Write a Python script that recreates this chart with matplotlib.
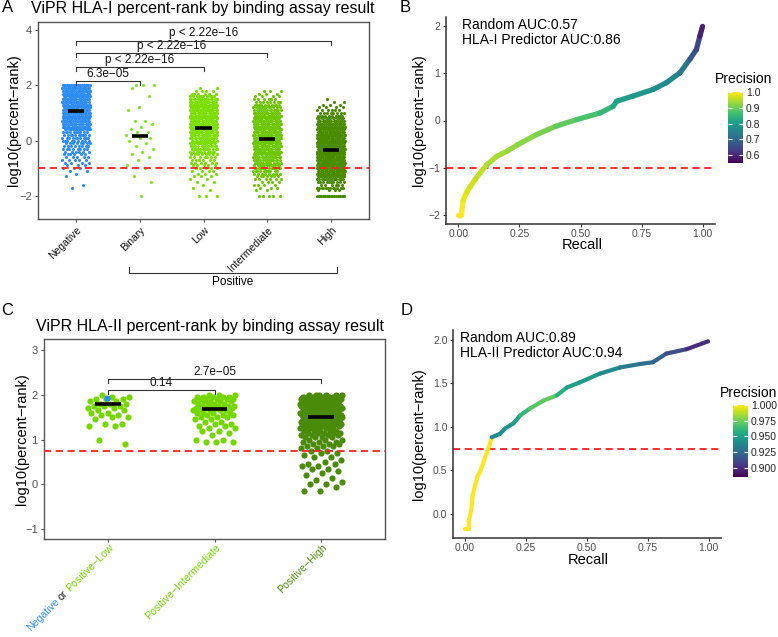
import numpy as np
import matplotlib
matplotlib.use("Agg")
import matplotlib.pyplot as plt
from matplotlib.collections import LineCollection
from matplotlib import transforms
from matplotlib.cm import ScalarMappable
from matplotlib.colors import Normalize

plt.rcParams['font.family'] = ['Liberation Sans', 'DejaVu Sans']

W, H = 778, 637

# ---------------- panel A data ----------------
# log10(percent-rank) levels and the number of peptides read at each level
a_groups = ["Negative", "Binary", "Low", "Intermediate", "High"]
a_levels = [2.0, 1.9, 1.8, 1.7, 1.6, 1.5, 1.4, 1.3, 1.2, 1.1, 1.0, 0.9, 0.8, 0.7,
            0.6, 0.5, 0.4, 0.3, 0.2, 0.1, 0.0, -0.1, -0.2, -0.3, -0.4, -0.5, -0.6,
            -0.7, -0.8, -0.9, -1.0, -1.1, -1.2, -1.3, -1.4, -1.5, -1.6, -1.7, -1.8,
            -1.9, -2.0]
a_counts_negative = [20, 20, 20, 20, 20, 20, 20, 20, 20, 20, 20, 20, 20, 20,
                     18, 18, 16, 10, 10, 10, 9, 8, 8, 8, 6, 6, 5,
                     5, 4, 3, 3, 2, 1, 1, 0, 0, 1, 1, 0,
                     0, 0]
a_counts_binary = [3, 1, 0, 0, 1, 0, 0, 0, 1, 1, 0, 0, 0, 2,
                   1, 1, 1, 2, 3, 2, 1, 1, 1, 1, 1, 1, 1,
                   1, 0, 1, 1, 0, 0, 1, 0, 1, 0, 0, 0,
                   0, 1]
a_counts_low = [0, 2, 4, 6, 10, 14, 16, 18, 18, 18, 18, 18, 18, 18,
                18, 18, 18, 18, 16, 16, 14, 14, 12, 12, 10, 8, 7,
                6, 6, 5, 5, 4, 3, 3, 2, 2, 1, 1, 1,
                0, 3]
a_counts_intermediate = [0, 0, 3, 3, 4, 6, 8, 10, 12, 14, 16, 16, 18, 18,
                         18, 18, 18, 18, 18, 18, 18, 18, 18, 18, 18, 16, 16,
                         14, 12, 12, 12, 10, 8, 7, 6, 4, 4, 3, 2,
                         0, 5]
a_counts_high = [0, 0, 0, 0, 0, 1, 2, 3, 4, 6, 8, 10, 14, 16,
                 20, 22, 24, 26, 28, 30, 30, 30, 30, 30, 30, 30, 30,
                 30, 30, 30, 28, 26, 24, 20, 16, 10, 6, 12, 4,
                 0, 20]
a_medians = [1.07, 0.18, 0.45, 0.06, -0.33]
a_pvalues = ["6.3e\u221205", "p < 2.22e\u221216", "p < 2.22e\u221216", "p < 2.22e\u221216"]
a_threshold = -1.0

# ---------------- panel B data ----------------
b_recall = [0.0, 0.013, 0.02, 0.035, 0.05, 0.07, 0.09, 0.117, 0.158, 0.2, 0.245,
            0.32, 0.40, 0.485, 0.58, 0.633, 0.648, 0.715, 0.797, 0.85, 0.906,
            0.947, 0.974, 0.988, 0.999]
b_logrank = [-2.0, -2.0, -1.7, -1.52, -1.4, -1.25, -1.11, -0.94, -0.76, -0.65, -0.51,
             -0.3, -0.12, 0.02, 0.16, 0.3, 0.41, 0.52, 0.66, 0.8, 1.01,
             1.3, 1.51, 1.79, 2.0]
b_precision = [1.0, 1.0, 0.985, 0.975, 0.97, 0.96, 0.955, 0.945, 0.94, 0.93, 0.92,
               0.91, 0.89, 0.87, 0.85, 0.82, 0.80, 0.79, 0.77, 0.76, 0.73,
               0.67, 0.64, 0.59, 0.565]
b_auc_text = ["Random AUC:0.57", "HLA-I Predictor AUC:0.86"]

# ---------------- panel C data ----------------
c_levels = [2.0, 1.95, 1.9, 1.85, 1.8, 1.75, 1.7, 1.65, 1.6, 1.55, 1.5, 1.45, 1.4,
            1.35, 1.3, 1.25, 1.2, 1.15, 1.1, 1.05, 1.0, 0.95, 0.9, 0.85, 0.8,
            0.75, 0.7, 0.65, 0.6, 0.55, 0.5, 0.45, 0.4, 0.35, 0.3, 0.25, 0.2,
            0.15, 0.1, 0.05, 0.0, -0.05, -0.1, -0.15, -0.2]
c_counts_low = [1, 2, 3, 2, 3, 3, 2, 2, 2, 2, 2, 1, 0,
                2, 2, 0, 0, 0, 0, 0, 1, 0, 1, 0, 0,
                0, 0, 0, 0, 0, 0, 0, 0, 0, 0, 0, 0,
                0, 0, 0, 0, 0, 0, 0, 0]
c_counts_intermediate = [3, 5, 5, 5, 4, 5, 5, 5, 4, 3, 3, 2, 2,
                         2, 2, 2, 2, 1, 1, 0, 2, 3, 0, 0, 0,
                         0, 0, 0, 0, 0, 0, 0, 0, 0, 0, 0, 0,
                         0, 0, 0, 0, 0, 0, 0, 0]
c_counts_high = [6, 8, 9, 9, 9, 9, 9, 9, 9, 8, 8, 8, 7,
                 7, 6, 6, 5, 5, 4, 4, 3, 3, 3, 3, 2,
                 2, 2, 1, 2, 1, 1, 2, 2, 2, 1, 1, 1,
                 1, 1, 1, 2, 1, 0, 2, 0]
c_negative_values = [1.93]
c_medians = [1.79, 1.68, 1.51]
c_pvalues = ["0.14", "2.7e\u221205"]
c_threshold = 0.75

# ---------------- panel D data ----------------
d_recall = [0.0, 0.014, 0.014, 0.025, 0.03, 0.041, 0.05, 0.061, 0.082, 0.102,
            0.109, 0.143, 0.164, 0.198, 0.225, 0.266, 0.321, 0.376, 0.417, 0.471,
            0.553, 0.635, 0.717, 0.77, 0.826, 0.909, 0.997]
d_logrank = [-0.17, -0.17, -0.09, 0.05, 0.21, 0.33, 0.43, 0.48, 0.65, 0.81,
             0.88, 0.92, 0.98, 1.04, 1.13, 1.21, 1.30, 1.36, 1.45, 1.51,
             1.61, 1.68, 1.72, 1.74, 1.84, 1.89, 1.98]
d_precision = [1.0, 1.0, 1.0, 1.0, 1.0, 1.0, 1.0, 1.0, 1.0, 1.0,
               0.94, 0.942, 0.945, 0.95, 0.962, 0.97, 0.972, 0.958, 0.95, 0.947,
               0.94, 0.932, 0.926, 0.922, 0.912, 0.9, 0.886]
d_auc_text = ["Random AUC:0.89", "HLA-II Predictor AUC:0.94"]


def fx(x):
    return x / W


def fy(y):
    return 1 - y / H


def box(l, t, r, b):
    return [fx(l), fy(b), (r - l) / W, (b - t) / H]


def strip(ax, x0, levels, counts, color, half, size):
    y = np.repeat(levels, counts)
    k = np.arange(len(y))
    dx = ((k * 0.6180339887 + 0.37) % 1.0 - 0.5) * 2 * half
    ax.scatter(x0 + dx, y, s=size, color=color, linewidths=0, zorder=2)


def bracket(ax, x1, x2, y, drop, label, fs=8.5):
    ax.plot([x1, x1, x2, x2], [y - drop, y, y, y - drop], color='#333333', lw=0.8,
            zorder=4, clip_on=False)
    ax.text((x1 + x2) / 2, y + drop * 0.35, label, ha='center', va='bottom',
            fontsize=fs, color='#111111')


def framed(ax):
    for s in ax.spines.values():
        s.set_color('#555555')
        s.set_linewidth(1.0)
    ax.tick_params(length=2.5, width=0.8, color='#555555', labelsize=8,
                   labelcolor='#4D4D4D', pad=2)


def classic(ax):
    ax.spines['top'].set_visible(False)
    ax.spines['right'].set_visible(False)
    for s in ['left', 'bottom']:
        ax.spines[s].set_color('#333333')
        ax.spines[s].set_linewidth(1.1)
    ax.tick_params(length=2.5, width=0.8, color='#333333', labelsize=7.5,
                   labelcolor='#4D4D4D', pad=1.5)
    ax.tick_params(axis='x', pad=1)


def pr_curve(ax, recall, logrank, precision, norm, lw):
    pts = np.column_stack([recall, logrank])
    segs = np.stack([pts[:-1], pts[1:]], axis=1)
    lc = LineCollection(segs, cmap='viridis', norm=norm, linewidths=lw,
                        capstyle='round', zorder=3)
    lc.set_array(np.array(precision[:-1]))
    ax.add_collection(lc)


def colorbar(fig, rect, norm, ticks, labels):
    cax = fig.add_axes(rect)
    cb = fig.colorbar(ScalarMappable(norm=norm, cmap='viridis'), cax=cax)
    cb.outline.set_visible(False)
    cb.set_ticks(ticks)
    cb.set_ticklabels(labels)
    cax.tick_params(direction='in', length=3, width=0.8, color='white',
                    left=True, right=True, labelleft=False, labelright=True,
                    labelsize=7.5, labelcolor='#222222', pad=2)


fig = plt.figure(figsize=(W / 100, H / 100), dpi=100)

# ---------------- A ----------------
axA = fig.add_axes(box(38, 22, 369, 219))
a_counts = [a_counts_negative, a_counts_binary, a_counts_low,
            a_counts_intermediate, a_counts_high]
a_colors = ['#2E8DF2', '#7DE81E', '#7ADE00', '#6CC600', '#4A8C00']
for i, (cnt, col) in enumerate(zip(a_counts, a_colors)):
    strip(axA, i + 1, a_levels, cnt, col, 0.22, 5)
for i, m in enumerate(a_medians):
    axA.plot([i + 1 - 0.13, i + 1 + 0.13], [m, m], color='black', lw=2.6,
             solid_capstyle='butt', zorder=5)
axA.axhline(a_threshold, color='#FF2020', lw=1.3, ls=(0, (4, 2.5)), zorder=4)
for k, (y, lab) in enumerate(zip([2.155, 2.665, 3.15, 3.61], a_pvalues)):
    bracket(axA, 1, k + 2, y, 0.14, lab)
axA.set_xlim(0.4, 5.6)
axA.set_ylim(-2.84, 4.29)
axA.set_yticks([-2, 0, 2, 4])
axA.set_xticks(range(1, 6))
axA.set_xticklabels(a_groups, rotation=45, ha='right', rotation_mode='anchor',
                    fontsize=7.5, color='#111111')
framed(axA)
axA.tick_params(axis='x', labelcolor='#111111', labelsize=7.5)
tA = transforms.blended_transform_factory(axA.transData, axA.transAxes)
axA.plot([1.83, 1.83, 5.10, 5.10], [-0.244, -0.274, -0.274, -0.244], color='#333333',
         lw=0.8, transform=tA, clip_on=False)
axA.text(3.46, -0.32, "Positive", transform=tA, ha='center', va='center', fontsize=8.5)
fig.text(fx(203), fy(9), "ViPR HLA-I percent-rank by binding assay result",
         ha='center', va='center', fontsize=11.5)
fig.text(fx(14), fy(120), "log10(percent\u2212rank)", rotation=90, ha='center',
         va='center', fontsize=10.5)

# ---------------- B ----------------
axB = fig.add_axes(box(446, 17, 715, 224))
normB = Normalize(0.55, 1.0)
axB.axhline(a_threshold, color='#FF2020', lw=1.3, ls=(0, (4, 2.5)), zorder=2)
pr_curve(axB, b_recall, b_logrank, b_precision, normB, 3.8)
axB.set_xlim(-0.05, 1.05)
axB.set_ylim(-2.2, 2.2)
axB.set_xticks([0, 0.25, 0.5, 0.75, 1.0])
axB.set_xticklabels(["0.00", "0.25", "0.50", "0.75", "1.00"])
axB.set_yticks([-2, -1, 0, 1, 2])
classic(axB)
fig.text(fx(462), fy(25), b_auc_text[0], ha='left', va='center', fontsize=10)
fig.text(fx(462), fy(40), b_auc_text[1], ha='left', va='center', fontsize=10)
fig.text(fx(582), fy(238), "Recall", ha='center', va='top', fontsize=10.5)
fig.text(fx(419), fy(120), "log10(percent\u2212rank)", rotation=90, ha='center',
         va='center', fontsize=10.5)
fig.text(fx(715), fy(79), "Precision", ha='left', va='center', fontsize=10)
colorbar(fig, box(728, 92, 743, 163), normB, [0.6, 0.7, 0.8, 0.9, 1.0],
         ["0.6", "0.7", "0.8", "0.9", "1.0"])

# ---------------- C ----------------
axC = fig.add_axes(box(44, 339, 385, 539))
c_counts = [c_counts_low, c_counts_intermediate, c_counts_high]
c_colors = ['#74D800', '#74D800', '#4A8C0A']
for i, (cnt, col) in enumerate(zip(c_counts, c_colors)):
    strip(axC, i + 1, c_levels, cnt, col, 0.2, 20)
axC.scatter([1 - 0.01] * len(c_negative_values), c_negative_values, s=20,
            color='#2E8DF2', linewidths=0, zorder=3)
for i, m in enumerate(c_medians):
    axC.plot([i + 1 - 0.12, i + 1 + 0.12], [m, m], color='black', lw=2.6,
             solid_capstyle='butt', zorder=5)
axC.axhline(c_threshold, color='#FF2020', lw=1.3, ls=(0, (4, 2.5)), zorder=4)
bracket(axC, 1, 2, 2.107, 0.09, c_pvalues[0])
bracket(axC, 1, 3, 2.35, 0.09, c_pvalues[1])
axC.set_xlim(0.4, 3.6)
axC.set_ylim(-1.223, 3.246)
axC.set_yticks([-1, 0, 1, 2, 3])
axC.set_xticks([1, 2, 3])
axC.set_xticklabels([])
framed(axC)
fig.text(fx(210), fy(326), "ViPR HLA-II percent-rank by binding assay result",
         ha='center', va='center', fontsize=11.5)
fig.text(fx(22), fy(439), "log10(percent\u2212rank)", rotation=90, ha='center',
         va='center', fontsize=10.5)

renderer = fig.canvas.get_renderer()


def text_width(s, fs):
    t = fig.text(0, 0, s, fontsize=fs)
    w = t.get_window_extent(renderer).width
    t.remove()
    return w


def rotated_label(ax, xdata, parts, fs):
    base = transforms.blended_transform_factory(ax.transData, ax.transAxes)
    full = "".join(p for p, _ in parts)
    wfull = text_width(full, fs)
    c45 = np.cos(np.radians(45))
    prefix = ""
    for txt, col in parts:
        prefix += txt
        shift = wfull - text_width(prefix, fs) if prefix != full else 0.0
        tr = transforms.offset_copy(base, fig=fig, x=-shift * c45 + 1,
                                    y=-shift * c45 - 3, units='dots')
        ax.text(xdata, 0, txt.strip(), transform=tr, rotation=45,
                rotation_mode='anchor', ha='right', va='top', color=col,
                fontsize=fs, clip_on=False)


rotated_label(axC, 1, [("Negative", '#2E8DF2'), (" or", '#111111'),
                       (" Positive\u2212Low", '#74D800')], 7.6)
rotated_label(axC, 2, [("Positive\u2212Intermediate", '#74D800')], 7.6)
rotated_label(axC, 3, [("Positive\u2212High", '#4A8C0A')], 7.6)

# ---------------- D ----------------
axD = fig.add_axes(box(453, 330, 721, 538))
normD = Normalize(0.885, 1.0)
axD.axhline(c_threshold, color='#FF2020', lw=1.3, ls=(0, (4, 2.5)), zorder=2)
pr_curve(axD, d_recall, d_logrank, d_precision, normD, 3.0)
axD.set_xlim(-0.05, 1.05)
axD.set_ylim(-0.275, 2.11)
axD.set_xticks([0, 0.25, 0.5, 0.75, 1.0])
axD.set_xticklabels(["0.00", "0.25", "0.50", "0.75", "1.00"])
axD.set_yticks([0, 0.5, 1.0, 1.5, 2.0])
axD.set_yticklabels(["0.0", "0.5", "1.0", "1.5", "2.0"])
classic(axD)
fig.text(fx(460), fy(338), d_auc_text[0], ha='left', va='center', fontsize=10)
fig.text(fx(460), fy(353), d_auc_text[1], ha='left', va='center', fontsize=10)
fig.text(fx(588), fy(553), "Recall", ha='center', va='top', fontsize=10.5)
fig.text(fx(419), fy(434), "log10(percent\u2212rank)", rotation=90, ha='center',
         va='center', fontsize=10.5)
fig.text(fx(720), fy(393), "Precision", ha='left', va='center', fontsize=10)
colorbar(fig, box(733, 405, 748, 477), normD, [0.9, 0.925, 0.95, 0.975, 1.0],
         ["0.900", "0.925", "0.950", "0.975", "1.000"])

# panel letters
for lab, x, y in [("A", 8, 8), ("B", 405, 8), ("C", 7, 310), ("D", 407, 310)]:
    fig.text(fx(x), fy(y), lab, ha='center', va='center', fontsize=12)

fig.savefig("out.png", dpi=100)
